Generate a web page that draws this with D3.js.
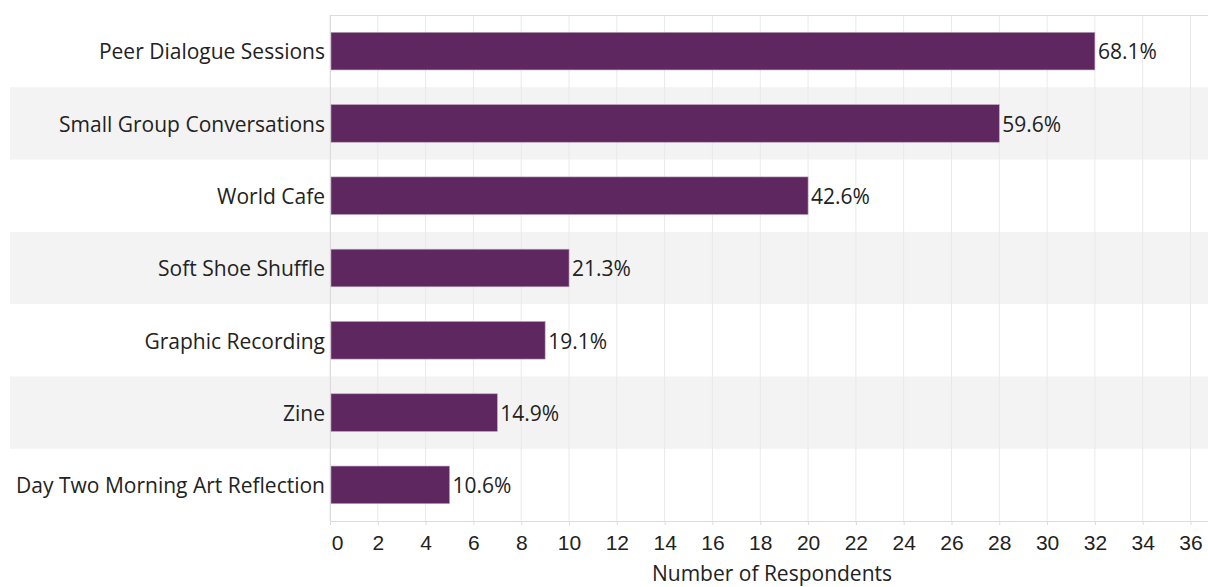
<!DOCTYPE html>
<html><head><meta charset="utf-8">
<script src="https://cdn.jsdelivr.net/npm/d3@7/dist/d3.min.js"></script>
<style>
html,body{margin:0;padding:0;background:#fff;}
svg{display:block;font-family:"Open Sans","Noto Sans",sans-serif;}
</style></head>
<body>
<svg id="chart" width="1208" height="587"></svg>
<script>
const categories = ["Peer Dialogue Sessions","Small Group Conversations","World Cafe","Soft Shoe Shuffle","Graphic Recording","Zine","Day Two Morning Art Reflection"];
const counts = [32, 28, 20, 10, 9, 7, 5];
const percentLabels = ["68.1%","59.6%","42.6%","21.3%","19.1%","14.9%","10.6%"];
const xTicks = [0,2,4,6,8,10,12,14,16,18,20,22,24,26,28,30,32,34,36];
const xTitle = "Number of Respondents";

(function(){
const svg = d3.select("#chart");
const pL = 330, pR = 1208, pT = 15, pB = 521;
const fs = "21px";
const x = d3.scaleLinear().domain([0, 36]).range([pL, 1190.5]);
const y = d3.scaleBand().domain(categories).range([pT, pB]).paddingInner(0.48).paddingOuter(0.24);
const step = (pB - pT) / categories.length;

// stripes
svg.append("g").selectAll("rect").data(categories.filter((d,i)=>i%2===1)).join("rect")
  .attr("x", 10).attr("width", pR - 10)
  .attr("y", d => pT + categories.indexOf(d) * step).attr("height", step)
  .attr("fill", "#f3f3f3");

// grid
svg.append("g").selectAll("line").data(xTicks).join("line")
  .attr("x1", d => x(d)).attr("x2", d => x(d)).attr("y1", pT).attr("y2", pB)
  .attr("stroke", "#e9e9e9").attr("stroke-width", 1);

// top border
svg.append("line").attr("x1", pL).attr("x2", pR).attr("y1", pT + 0.5).attr("y2", pT + 0.5)
  .attr("stroke", "#dcdcdc");

// x axis
const xAxis = svg.append("g").attr("transform", `translate(0,${pB})`)
  .call(d3.axisBottom(x).tickValues(xTicks).tickSize(4).tickPadding(10));
xAxis.select(".domain").attr("stroke", "#dcdcdc").attr("d", `M${pL},0.5H${pR}`);
xAxis.selectAll(".tick line").attr("stroke", "#dcdcdc");
xAxis.selectAll(".tick text").attr("fill", "#222").style("font-size", fs)
  .attr("dx", d => d === 0 ? 7 : 0);

// left axis line
svg.append("line").attr("x1", pL + 0.5).attr("x2", pL + 0.5).attr("y1", pT).attr("y2", pB + 4)
  .attr("stroke", "#dcdcdc");

// bars
svg.append("g").selectAll("rect").data(categories).join("rect")
  .attr("x", x(0) + 1).attr("y", d => y(d))
  .attr("width", (d,i) => x(counts[i]) - x(0) - 1).attr("height", y.bandwidth())
  .attr("fill", "#5e275f").attr("stroke", "#b8a0b9").attr("stroke-width", 0.6);

// value labels
svg.append("g").selectAll("text").data(categories).join("text")
  .attr("x", (d,i) => x(counts[i]) + 3).attr("y", d => y(d) + y.bandwidth()/2 + 1)
  .attr("dy", "0.35em").attr("fill", "#222").style("font-size", fs)
  .text((d,i) => percentLabels[i]);

// category labels
svg.append("g").selectAll("text").data(categories).join("text")
  .attr("x", pL - 5).attr("y", d => y(d) + y.bandwidth()/2 + 1)
  .attr("dy", "0.35em").attr("text-anchor", "end").attr("fill", "#222").style("font-size", fs)
  .text(d => d);

// axis title
svg.append("text").attr("x", 772).attr("y", 581)
  .attr("text-anchor", "middle").attr("fill", "#222").style("font-size", fs)
  .text(xTitle);
})();
</script>
</body></html>
